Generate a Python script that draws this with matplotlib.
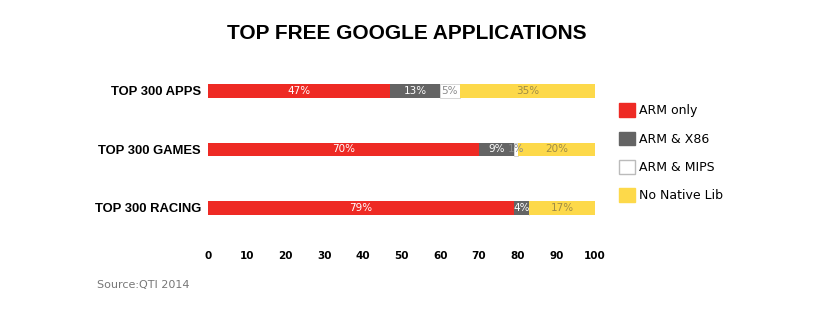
import matplotlib

matplotlib.use("Agg")

import matplotlib.pyplot as plt
from matplotlib.patches import Patch

categories = ["TOP 300 APPS", "TOP 300 GAMES", "TOP 300 RACING"]
series_names = ["ARM only", "ARM & X86", "ARM & MIPS", "No Native Lib"]
arm_only = [47, 70, 79]
arm_x86 = [13, 9, 4]
arm_mips = [5, 1, 0]
no_native = [35, 20, 17]
ticks = [0, 10, 20, 30, 40, 50, 60, 70, 80, 90, 100]

COLORS = ["#ee2a24", "#646464", "#ffffff", "#fdd94a"]
EDGES = ["none", "none", "#d0d0d0", "none"]
LABEL_COLORS = ["#ffffff", "#ffffff", "#8a8a8a", "#a08c45"]

fig = plt.figure(figsize=(8.14, 3.12), dpi=100, facecolor="white")
ax = fig.add_axes([0.2555, 0.221, 0.4755, 0.6])

values = [arm_only, arm_x86, arm_mips, no_native]
y = list(range(len(categories)))
left = [0] * len(categories)
for i, vals in enumerate(values):
    bars = ax.barh(y, vals, left=left, height=0.23, color=COLORS[i],
                   edgecolor=EDGES[i], linewidth=0.6)
    for j, (b, v) in enumerate(zip(bars, vals)):
        if v > 0:
            ax.text(left[j] + v / 2, y[j], f"{v}%", ha="center", va="center",
                    fontsize=7.5, color=LABEL_COLORS[i])
    left = [l + v for l, v in zip(left, vals)]

ax.set_xlim(0, 100)
ax.set_ylim(2.6, -0.6)
ax.set_xticks(ticks)
ax.set_xticklabels([str(t) for t in ticks], fontsize=7.5, fontweight="bold")
ax.tick_params(axis="x", length=0, pad=6)
ax.set_yticks(y)
ax.set_yticklabels(categories, fontsize=9.4, fontweight="bold", family="Liberation Sans")
ax.tick_params(axis="y", length=0, pad=5)
for s in ax.spines.values():
    s.set_visible(False)

fig.text(0.5, 0.893, "TOP FREE GOOGLE APPLICATIONS", ha="center", va="center",
         fontsize=15, fontweight="bold", family="Liberation Sans")

handles = [Patch(facecolor=COLORS[i], edgecolor=("#bbbbbb" if i == 2 else COLORS[i]),
                 label=series_names[i]) for i in range(4)]
fig.legend(handles=handles, loc="upper left", bbox_to_anchor=(0.754, 0.685),
           frameon=False, fontsize=9, handlelength=1.3, handleheight=1.3,
           handletextpad=0.3, labelspacing=1.15, borderaxespad=0)

fig.text(0.119, 0.077, "Source:QTI 2014", fontsize=8, color="#777777")

fig.savefig("out.png", dpi=100, facecolor="white")
